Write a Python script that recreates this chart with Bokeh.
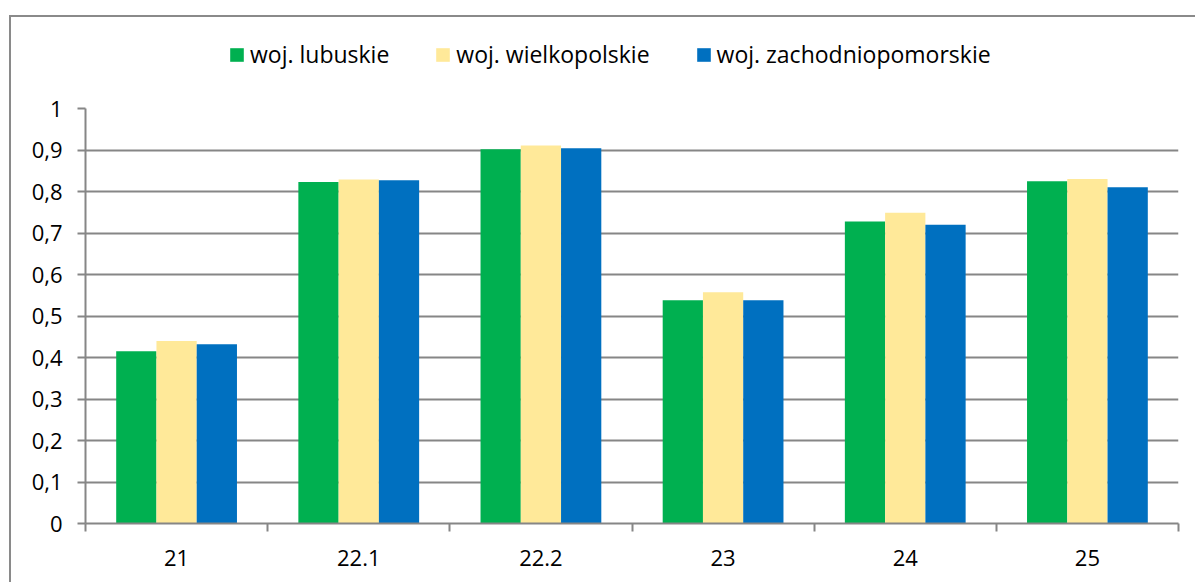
from bokeh.plotting import figure
from bokeh.models import Range1d, FixedTicker, Legend, LegendItem, ColumnDataSource
from bokeh.layouts import column
from bokeh.transform import dodge
from bokeh.embed import file_html
from bokeh.resources import INLINE

categories = ["21", "22.1", "22.2", "23", "24", "25"]
lubuskie = [0.415, 0.823, 0.902, 0.538, 0.728, 0.825]
wielkopolskie = [0.440, 0.829, 0.911, 0.557, 0.749, 0.830]
zachodniopomorskie = [0.432, 0.827, 0.904, 0.538, 0.720, 0.810]
series_names = ["woj. lubuskie", "woj. wielkopolskie", "woj. zachodniopomorskie"]
y_ticks = [0, 0.1, 0.2, 0.3, 0.4, 0.5, 0.6, 0.7, 0.8, 0.9, 1]
y_tick_labels = ["0", "0,1", "0,2", "0,3", "0,4", "0,5", "0,6", "0,7", "0,8", "0,9", "1"]

colors = ["#00B050", "#FFE999", "#0070C0"]
FONT = "Open Sans"
FS = "22px"
LFS = "23px"
GRID = "#868686"
W = 1184
LEG_H = 60

centers = [i + 0.5 for i in range(len(categories))]
src = ColumnDataSource(dict(x=centers, a=lubuskie, b=wielkopolskie, c=zachodniopomorskie))

# ---- legend strip (top of chart area) ----
lg = figure(width=W, height=LEG_H, output_backend="svg", toolbar_location=None,
            x_range=Range1d(0, 1), y_range=Range1d(0, 1),
            x_axis_type=None, y_axis_type=None,
            min_border_left=0, min_border_right=0, min_border_top=0, min_border_bottom=0)
lg.outline_line_color = None
lg.grid.grid_line_color = None
lg.background_fill_color = "white"
lg.border_fill_color = "white"
# hidden proxy renderers (outside the visible range) that only feed the legend swatches
proxy = ColumnDataSource(dict(x=[-10], top=[0]))
leg_renderers = [lg.vbar(x="x", top="top", width=0.1, source=proxy, fill_color=c, line_color=None)
                 for c in colors]
legend = Legend(items=[LegendItem(label=n, renderers=[r]) for n, r in zip(series_names, leg_renderers)],
                orientation="horizontal", location=(143, 7),
                glyph_width=17, glyph_height=17, label_standoff=5, spacing=45,
                padding=0, margin=0, border_line_color=None, background_fill_alpha=0,
                label_text_font=FONT, label_text_font_size=LFS, label_text_color="black")
lg.add_layout(legend, "center")

# ---- main chart ----
p = figure(width=W, height=565 - LEG_H, output_backend="svg", toolbar_location=None,
           x_range=Range1d(0, len(categories)), y_range=Range1d(0, 1),
           min_border_left=74, min_border_right=17, min_border_top=31, min_border_bottom=59)
p.outline_line_color = None
p.background_fill_color = "white"
p.border_fill_color = "white"

bw = 0.221
for key, off, col in zip(["a", "b", "c"], [-bw, 0, bw], colors):
    p.vbar(x=dodge("x", off, range=p.x_range), top=key, width=bw, bottom=0,
           source=src, fill_color=col, line_color=None)

p.xaxis.ticker = FixedTicker(ticks=centers, minor_ticks=list(range(len(categories) + 1)))
p.xaxis.major_label_overrides = {c: lab for c, lab in zip(centers, categories)}
p.xaxis.major_tick_out = 0
p.xaxis.major_tick_in = 0
p.xaxis.minor_tick_out = 8
p.xaxis.minor_tick_in = 0
p.xaxis.minor_tick_line_color = GRID
p.xaxis.minor_tick_line_width = 2
p.xaxis.axis_line_color = GRID
p.xaxis.axis_line_width = 2
p.xaxis.major_label_standoff = 18
p.xaxis.major_label_text_font = FONT
p.xaxis.major_label_text_font_size = FS
p.xaxis.major_label_text_color = "black"

p.yaxis.ticker = FixedTicker(ticks=y_ticks, minor_ticks=[])
p.yaxis.major_label_overrides = {t: lab for t, lab in zip(y_ticks, y_tick_labels)}
p.yaxis.major_tick_out = 8
p.yaxis.major_tick_in = 0
p.yaxis.major_tick_line_color = GRID
p.yaxis.major_tick_line_width = 2
p.yaxis.axis_line_color = GRID
p.yaxis.axis_line_width = 2
p.yaxis.major_label_standoff = 15
p.yaxis.major_label_text_font = FONT
p.yaxis.major_label_text_font_size = FS
p.yaxis.major_label_text_color = "black"

p.xgrid.grid_line_color = None
p.ygrid.ticker = FixedTicker(ticks=y_ticks)
p.ygrid.grid_line_color = GRID
p.ygrid.grid_line_width = 2

layout = column(lg, p, spacing=0)
layout.margin = (15, 0, 0, 9)
layout.styles = {"border-top": "2px solid #8a8a8a", "border-left": "2px solid #8a8a8a"}

open("out.html", "w").write(file_html(layout, INLINE))
